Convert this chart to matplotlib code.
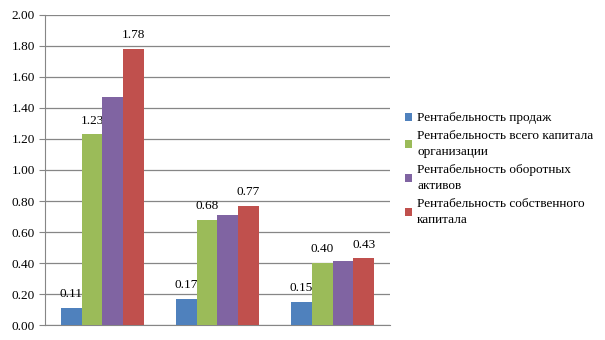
import matplotlib
matplotlib.use("Agg")
import matplotlib.pyplot as plt
import numpy as np

plt.rcParams["font.family"] = ["Liberation Serif", "DejaVu Serif"]

groups = ["1", "2", "3"]
series_names = [
    "Рентабельность продаж",
    "Рентабельность всего капитала\nорганизации",
    "Рентабельность оборотных\nактивов",
    "Рентабельность собственного\nкапитала",
]
values = [
    [0.11, 0.17, 0.15],
    [1.23, 0.68, 0.40],
    [1.47, 0.71, 0.41],
    [1.78, 0.77, 0.43],
]
show_labels = [True, True, False, True]
colors = ["#4F81BD", "#9BBB59", "#8064A2", "#C0504D"]

fig = plt.figure(figsize=(6.05, 3.4), dpi=100)
ax = fig.add_axes([0.074, 0.044, 0.571, 0.912])

x = np.arange(len(groups))
w = 0.18
handles = []
for i, (vals, c) in enumerate(zip(values, colors)):
    pos = x + (i - 1.5) * w
    b = ax.bar(pos, vals, width=w, color=c, zorder=3)
    handles.append(b)
    if show_labels[i]:
        for p, v in zip(pos, vals):
            ax.text(p, v + 0.05, f"{v:.2f}", ha="center", va="bottom", fontsize=9.5)

ax.set_xlim(-0.5, 2.5)
ax.set_ylim(0, 2.0)
ax.set_yticks(np.arange(0, 2.01, 0.2))
ax.set_yticklabels([f"{t:.2f}" for t in np.arange(0, 2.01, 0.2)], fontsize=9.5)
ax.set_xticks([])
ax.yaxis.grid(True, color="#868686", lw=0.9, zorder=0)
for s in ["top", "right"]:
    ax.spines[s].set_visible(False)
ax.spines["left"].set_color("#868686")
ax.spines["bottom"].set_color("#868686")
ax.tick_params(axis="y", color="#868686", length=4, pad=3)

leg = fig.legend(handles, series_names, loc="upper left", bbox_to_anchor=(0.66, 0.685),
                 frameon=False, fontsize=9.5, handlelength=0.6, handleheight=0.6,
                 handletextpad=0.35, labelspacing=0.45, borderaxespad=0)
for t in leg.get_texts():
    t.set_linespacing(1.45)

fig.savefig("out.png", dpi=100)
